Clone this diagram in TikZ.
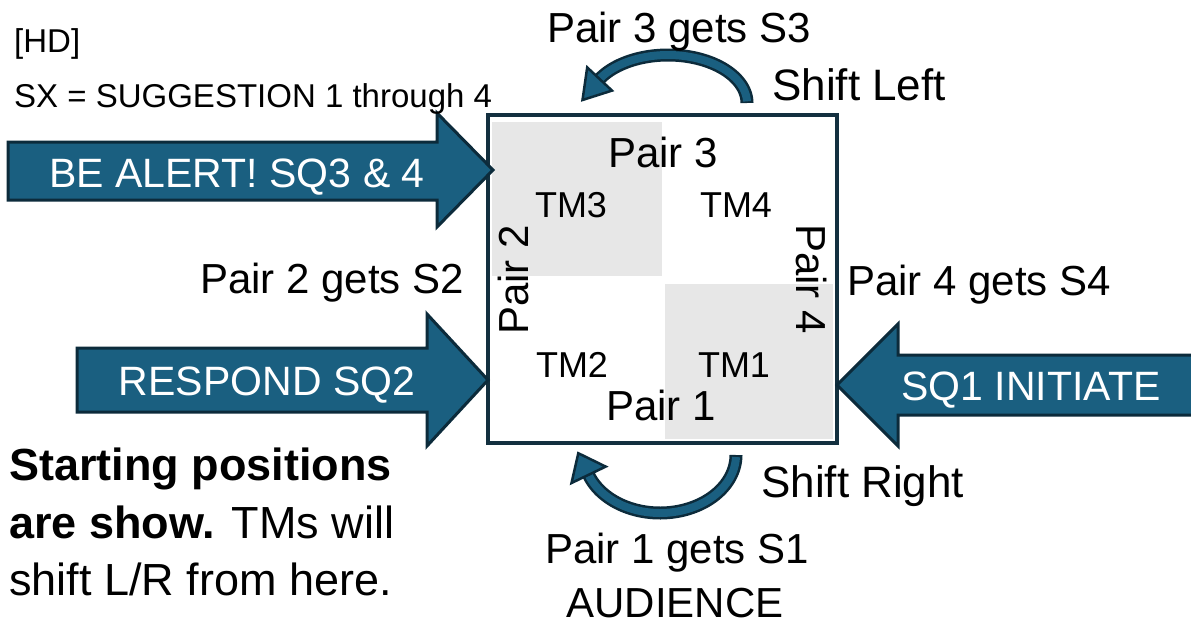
\documentclass[tikz,border=0pt]{standalone}
\usepackage{fontspec}
\setmainfont{Liberation Sans}
\usetikzlibrary{calc}
\definecolor{arrfill}{HTML}{1A5F80}
\definecolor{arrline}{HTML}{0C2B3B}
\definecolor{boxline}{HTML}{13303F}
\definecolor{cellgray}{HTML}{E7E7E7}
\tikzset{
 lbl/.style={inner sep=0pt, text=black, font=\fontsize{42}{50}\selectfont},
 shiftlbl/.style={inner sep=0pt, text=black, font=\fontsize{44}{52}\selectfont},
 notebig/.style={inner sep=0pt, text=black, font=\fontsize{45}{54}\selectfont},
 tmlbl/.style={inner sep=0pt, text=black, font=\fontsize{36}{43}\selectfont},
 notelbl/.style={inner sep=0pt, text=black, font=\fontsize{33}{40}\selectfont},
 blockarrow/.style={fill=arrfill, draw=arrline, line width=3pt, line join=miter},
 arrowtext/.style={inner sep=0pt, text=white, font=\fontsize{41}{49}\selectfont},
 bandedge/.style={draw=arrline, line width=13pt, line join=round},
 bandfill/.style={draw=arrfill, line width=8pt, line join=round},
 headtri/.style={fill=arrfill, draw=arrline, line width=2.5pt, line join=miter},
}
\begin{document}
\begin{tikzpicture}[x=1pt,y=-1pt]
\clip (0,0) rectangle (1191,638);
\fill[white] (0,0) rectangle (1191,638);

% grey cells and main box
\fill[cellgray] (492,122) rectangle (662,276);
\fill[cellgray] (665,284) rectangle (833,439);
\draw[boxline, line width=3.5pt] (488,115) rectangle (837,443);

% texts inside the box
\node[lbl, anchor=base] (p3) at (663,167) {Pair 3};
\node[lbl, anchor=base] (p1) at (661,420) {Pair 1};
\node[lbl, rotate=90] (p2) at (513,280) {Pair 2};
\node[lbl, rotate=-90] (p4) at (812,279) {Pair 4};
\node[tmlbl, anchor=base] (tm3) at (571,217) {TM3};
\node[tmlbl, anchor=base] (tm4) at (736,217) {TM4};
\node[tmlbl, anchor=base] (tm2) at (572,377) {TM2};
\node[tmlbl, anchor=base] (tm1) at (734,377) {TM1};

% block arrows
\draw[blockarrow] (8,142) -- (437,142) -- (437,113) -- (493,170) -- (437,227) -- (437,200) -- (8,200) -- cycle;
\node[arrowtext, anchor=base] (alert) at (237,187) {BE ALERT! SQ3 \& 4};
\draw[blockarrow] (77,348) -- (427,348) -- (427,314) -- (488,380) -- (427,446) -- (427,412) -- (77,412) -- cycle;
\node[arrowtext, anchor=base] (respond) at (267,395) {RESPOND SQ2};
\draw[blockarrow] (1200,355) -- (898,355) -- (898,324) -- (837,385) -- (898,446) -- (898,415) -- (1200,415) -- cycle;
\node[arrowtext, anchor=base] (initiate) at (1031,400) {SQ1 INITIATE};

% curved arrow top (shift left)
\draw[bandedge] plot[domain=0:150, samples=60] ({668+79*cos(\x)},{103-48*sin(\x)});
\draw[bandfill] plot[domain=2:150, samples=60] ({668+79*cos(\x)},{103-48*sin(\x)});
\draw[headtri] (582.5,100) -- (612.0,90.6) -- (587.2,67.4) -- cycle;

% curved arrow bottom (shift right)
\draw[bandedge] plot[domain=0:160, samples=60] ({660+76*cos(\x)},{455+58*sin(\x)});
\draw[bandfill] plot[domain=2:160, samples=60] ({660+76*cos(\x)},{455+58*sin(\x)});
\draw[headtri] (578.3,453.2) -- (605.7,466.6) -- (571.5,483.0) -- cycle;

% outside labels
\node[notelbl, anchor=base west] (hd) at (14,52) {[HD]};
\node[notelbl, anchor=base west] (sx) at (14,107) {SX = SUGGESTION 1 through 4};
\node[lbl, anchor=base] (g3) at (679,42) {Pair 3 gets S3};
\node[shiftlbl, anchor=base west] (sl) at (772,100) {Shift Left};
\node[lbl, anchor=base west] (g2) at (200,293) {Pair 2 gets S2};
\node[lbl, anchor=base west] (g4) at (847,295) {Pair 4 gets S4};
\node[shiftlbl, anchor=base west] (sr) at (761,497) {Shift Right};
\node[lbl, anchor=base] (g1) at (677,563) {Pair 1 gets S1};
\node[lbl, anchor=base] (aud) at (675,617) {AUDIENCE};

% bottom-left note
\node[notebig, anchor=base west] (st1) at (9,480) {\bfseries Starting positions};
\node[notebig, anchor=base west] (st2) at (9,538) {{\bfseries are show.} TMs will};
\node[notebig, anchor=base west] (st3) at (9,595) {shift L/R from here.};
\end{tikzpicture}
\end{document}
